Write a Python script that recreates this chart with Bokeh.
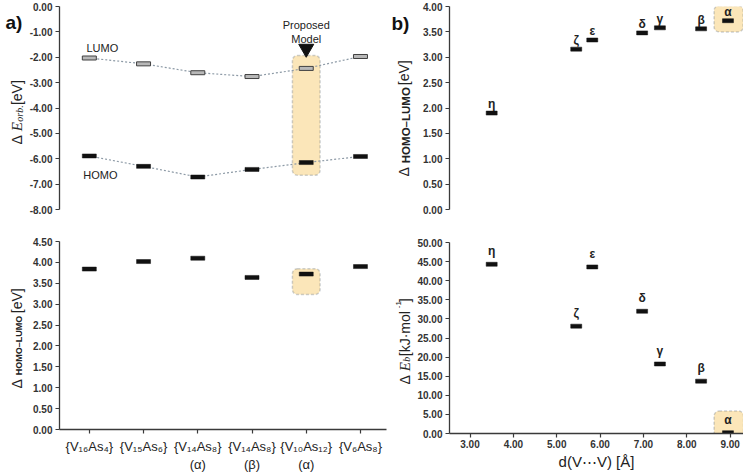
import math
from bokeh.plotting import figure
from bokeh.models import Range1d, FixedTicker, NumeralTickFormatter, BoxAnnotation
from bokeh.layouts import row, column
from bokeh.embed import file_html
from bokeh.resources import INLINE
from bokeh.core.properties import value

# ---------------- data ----------------
clusters = ["{V\u2081\u2086As\u2084}", "{V\u2081\u2085As\u2086}", "{V\u2081\u2084As\u2088}\n(\u03b1)",
            "{V\u2081\u2084As\u2088}\n(\u03b2)", "{V\u2081\u2080As\u2081\u2082}\n(\u03b1)", "{V\u2086As\u2088}"]
lumo = [-2.03, -2.26, -2.61, -2.76, -2.44, -1.97]
homo = [-5.89, -6.30, -6.72, -6.42, -6.15, -5.91]
gap = [3.84, 4.02, 4.10, 3.64, 3.72, 3.90]

isomers = ["\u03b7", "\u03b6", "\u03b5", "\u03b4", "\u03b3", "\u03b2", "\u03b1"]
d_vv = [3.50, 5.45, 5.82, 6.97, 7.38, 8.33, 8.95]
gap_iso = [1.90, 3.16, 3.34, 3.48, 3.58, 3.56, 3.72]
eb_iso = [44.3, 28.1, 43.6, 32.0, 18.2, 13.7, 0.2]

ticks_orb = [-8, -7, -6, -5, -4, -3, -2, -1, 0]
ticks_gap = [0, 0.5, 1, 1.5, 2, 2.5, 3, 3.5, 4, 4.5]
ticks_gap_r = [0, 0.5, 1, 1.5, 2, 2.5, 3, 3.5, 4]
ticks_eb = [0, 5, 10, 15, 20, 25, 30, 35, 40, 45, 50]
ticks_d = [3, 4, 5, 6, 7, 8, 9]

SANS = "Liberation Sans"
SERIF = "Liberation Serif"
TXT = "#222222"
AX = "#3a3a3a"
HL_FILL = "#fbe6b9"
HL_LINE = "#5c6b78"

xs = [i + 1 for i in range(len(clusters))]

TOP_H, BOT_H = 228, 246
LAB_L_W, LAB_R_W = 26, 26


def style(p):
    p.outline_line_color = None
    p.grid.grid_line_color = None
    p.background_fill_color = "white"
    p.border_fill_color = "white"
    for ax in p.axis:
        ax.axis_line_color = AX
        ax.axis_line_width = 1.3
        ax.major_tick_line_color = AX
        ax.major_tick_line_width = 1.2
        ax.major_tick_out = 4
        ax.major_tick_in = 0
        ax.minor_tick_line_color = None
        ax.major_label_text_font = SANS
        ax.major_label_text_font_size = "10px"
        ax.major_label_text_font_style = "bold"
        ax.major_label_text_color = "#333333"
        ax.major_label_standoff = 3


def label_fig(w, h):
    f = figure(width=w, height=h, x_range=Range1d(0, w), y_range=Range1d(0, h),
               x_axis_location=None, y_axis_location=None, toolbar_location=None,
               output_backend="svg", min_border=0, min_border_left=0, min_border_right=0,
               min_border_top=0, min_border_bottom=0)
    f.outline_line_color = None
    f.grid.grid_line_color = None
    f.background_fill_color = "white"
    f.border_fill_color = "white"
    return f


def vtext(f, h, top, xb, y_start, pieces):
    """Rotated (bottom-to-top) composite text; y_start is the page y where the text begins."""
    y = y_start
    for txt, size, font, fstyle, dx, adv in pieces:
        f.text(x=[xb + dx], y=[h - (y - top)], text=[txt], angle=math.pi / 2,
               text_font=value(font), text_font_size=f"{size}px", text_font_style=fstyle,
               text_align="left", text_baseline="alphabetic", text_color=TXT)
        y -= adv


def hl_box(p, left, right, bottom, top):
    p.add_layout(BoxAnnotation(left=left, right=right, bottom=bottom, top=top,
                               fill_color=HL_FILL, fill_alpha=1.0, line_color=HL_LINE,
                               line_dash="3 2", line_width=1.5, border_radius=5, level="underlay"))


# ---------------- label strips ----------------
lab_tl = label_fig(LAB_L_W, TOP_H)
vtext(lab_tl, TOP_H, 0, 16, 144, [("\u0394", 14, SANS, "normal", 0, 13.3),
                                   ("E", 15, SERIF, "italic", 0, 9.5),
                                   ("orb.", 10, SERIF, "italic", 3, 16.6),
                                   (" [eV]", 14, SANS, "normal", 0, 0)])
lab_tl.text(x=[5], y=[TOP_H - 22], text=["a)"], text_font=value(SANS), text_font_size="19px",
            text_font_style="bold", text_align="left", text_baseline="alphabetic",
            text_color="#111111")

lab_bl = label_fig(LAB_L_W, BOT_H)
vtext(lab_bl, BOT_H, TOP_H, 16, 388, [("\u0394", 14, SANS, "normal", 0, 13.3),
                                       ("HOMO\u2013LUMO", 9, SANS, "bold", 2, 62),
                                       (" [eV]", 14, SANS, "normal", 0, 0)])

lab_tr = label_fig(LAB_R_W, TOP_H)
vtext(lab_tr, TOP_H, 0, 15, 176, [("\u0394", 14, SANS, "normal", 0, 13.3),
                                   ("HOMO\u2013LUMO", 11.5, SANS, "bold", 2, 78),
                                   (" [eV]", 14, SANS, "normal", 0, 0)])
lab_tr.text(x=[3], y=[TOP_H - 23], text=["b)"], text_font=value(SANS), text_font_size="19px",
            text_font_style="bold", text_align="left", text_baseline="alphabetic",
            text_color="#111111")

lab_br = label_fig(LAB_R_W, BOT_H)
vtext(lab_br, BOT_H, TOP_H, 16, 384, [("\u0394", 14, SANS, "normal", 0, 13.3),
                                       ("E", 15, SERIF, "italic", 0, 9.5),
                                       ("b", 10, SERIF, "italic", 2, 5.5),
                                       (" [kJ\u00b7mol", 14, SANS, "normal", 0, 48),
                                       ("-1", 8, SANS, "normal", -6, 6),
                                       ("]", 14, SANS, "normal", 0, 0)])

# ---------------- top-left: orbital energies ----------------
xl_lo, xl_hi = 0.45, 6.48
tl = figure(width=388 - LAB_L_W, height=TOP_H, x_range=Range1d(xl_lo, xl_hi), y_range=Range1d(-8, 0),
            x_axis_location=None, toolbar_location=None, output_backend="svg",
            min_border_left=59 - LAB_L_W, min_border_right=2, min_border_top=6, min_border_bottom=19)
style(tl)
tl.yaxis.ticker = FixedTicker(ticks=ticks_orb)
tl.yaxis.formatter = NumeralTickFormatter(format="0.00")

box_top = lumo[4] + 0.51
hl_box(tl, xs[4] - 0.255, xs[4] + 0.255, homo[4] - 0.5, box_top)
tl.line(xs, lumo, line_color="#8d9aa6", line_dash="2 2", line_width=1.2)
tl.line(xs, homo, line_color="#8d9aa6", line_dash="2 2", line_width=1.2)
tl.rect(xs, lumo, width=14, height=4, width_units="screen", height_units="screen",
        fill_color="#b8b8b8", line_color="#404040", line_width=1)
tl.rect(xs, homo, width=14, height=4, width_units="screen", height_units="screen",
        fill_color="#111111", line_color="#111111", line_width=0.5)
tl.text(x=[xs[0]], y=[lumo[0]], text=["LUMO"], x_offset=13, y_offset=-10,
        text_align="center", text_baseline="middle", text_font=value(SANS),
        text_font_size="11px", text_color=TXT)
tl.text(x=[xs[0]], y=[homo[0]], text=["HOMO"], x_offset=11, y_offset=19,
        text_align="center", text_baseline="middle", text_font=value(SANS),
        text_font_size="11px", text_color=TXT)
tl.text(x=[xs[4], xs[4]], y=[box_top, box_top], text=["Proposed", "Model"], y_offset=[-30, -16],
        text_align="center", text_baseline="middle", text_font=value(SANS),
        text_font_size="11px", text_color=TXT)
tl.scatter([xs[4]], [box_top + 0.27], marker="inverted_triangle", size=15,
           fill_color="#111111", line_color="#111111")

# ---------------- bottom-left: HOMO-LUMO gap ----------------
bl = figure(width=388 - LAB_L_W, height=BOT_H, x_range=Range1d(xl_lo, xl_hi), y_range=Range1d(0, 4.5),
            toolbar_location=None, output_backend="svg",
            min_border_left=59 - LAB_L_W, min_border_right=2, min_border_top=13, min_border_bottom=42)
style(bl)
bl.yaxis.ticker = FixedTicker(ticks=ticks_gap)
bl.yaxis.formatter = NumeralTickFormatter(format="0.00")
bl.xaxis.ticker = FixedTicker(ticks=xs)
bl.xaxis.major_label_overrides = {x: c for x, c in zip(xs, clusters)}
bl.xaxis.major_label_text_font_size = "13px"
bl.xaxis.major_label_text_font_style = "normal"
bl.xaxis.major_label_text_color = TXT
bl.xaxis.major_label_standoff = 5
hl_box(bl, xs[4] - 0.255, xs[4] + 0.255, 3.23, 3.85)
bl.rect(xs, gap, width=14, height=4, width_units="screen", height_units="screen",
        fill_color="#111111", line_color="#111111", line_width=0.5)

# ---------------- top-right: gap vs distance ----------------
xr_lo, xr_hi = 2.527, 9.308
tr = figure(width=355 - LAB_R_W, height=TOP_H, x_range=Range1d(xr_lo, xr_hi), y_range=Range1d(0, 4),
            x_axis_location=None, toolbar_location=None, output_backend="svg",
            min_border_left=446 - 388 - LAB_R_W, min_border_right=0, min_border_top=6, min_border_bottom=19)
style(tr)
tr.yaxis.ticker = FixedTicker(ticks=ticks_gap_r)
tr.yaxis.formatter = NumeralTickFormatter(format="0.00")
hl_box(tr, 8.63, 9.3, 3.5, 4.02)
tr.rect(d_vv, gap_iso, width=11, height=4, width_units="screen", height_units="screen",
        fill_color="#111111", line_color="#111111", line_width=0.5)
tr.text(x=d_vv, y=gap_iso, text=isomers, y_offset=-2, text_align="center", text_baseline="bottom",
        text_font=value(SANS), text_font_size="12px", text_font_style="bold", text_color=TXT)

# ---------------- bottom-right: binding energy vs distance ----------------
br = figure(width=355 - LAB_R_W, height=BOT_H, x_range=Range1d(xr_lo, xr_hi), y_range=Range1d(0, 50),
            toolbar_location=None, output_backend="svg",
            min_border_left=446 - 388 - LAB_R_W, min_border_right=0, min_border_top=14, min_border_bottom=41)
style(br)
br.yaxis.ticker = FixedTicker(ticks=ticks_eb)
br.yaxis.formatter = NumeralTickFormatter(format="0.00")
br.xaxis.ticker = FixedTicker(ticks=ticks_d)
br.xaxis.formatter = NumeralTickFormatter(format="0.00")
br.xaxis.major_label_standoff = 2
br.xaxis.axis_label = "d(V\u22efV) [\u00c5]"
br.xaxis.axis_label_text_font = SANS
br.xaxis.axis_label_text_font_size = "15px"
br.xaxis.axis_label_text_font_style = "normal"
br.xaxis.axis_label_text_color = TXT
br.xaxis.axis_label_standoff = 2
hl_box(br, 8.63, 9.31, -0.9, 5.9)
br.rect(d_vv, eb_iso, width=11, height=4, width_units="screen", height_units="screen",
        fill_color="#111111", line_color="#111111", line_width=0.5)
br.text(x=d_vv, y=eb_iso, text=isomers, y_offset=-6, text_align="center", text_baseline="bottom",
        text_font=value(SANS), text_font_size="12px", text_font_style="bold", text_color=TXT)

layout = row(column(lab_tl, lab_bl), column(tl, bl), column(lab_tr, lab_br), column(tr, br))
open("out.html", "w").write(file_html(layout, INLINE))
